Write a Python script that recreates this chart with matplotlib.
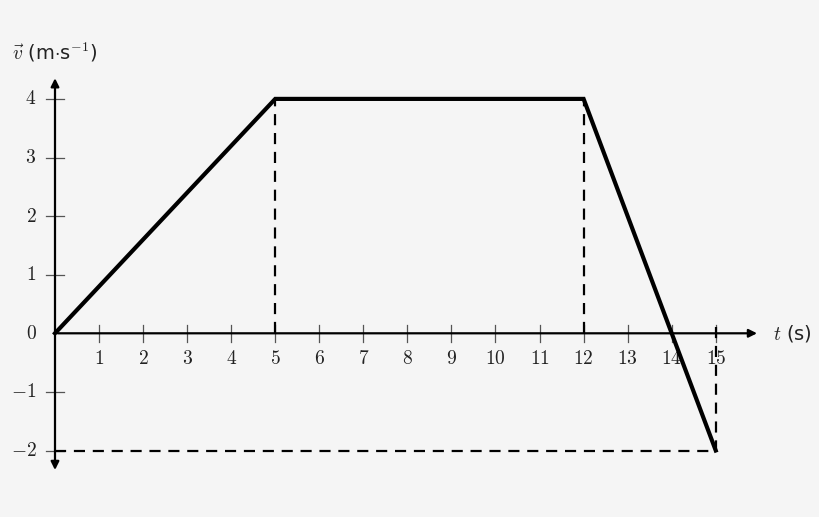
import matplotlib.pyplot as plt
import numpy as np

plt.rcParams['mathtext.fontset'] = 'cm'
plt.rcParams['font.family'] = 'DejaVu Sans'

# velocity-time data
t_pts = [0, 5, 12, 15]
v_pts = [0, 4, 4, -2]
x_ticks = list(range(1, 16))
y_ticks = [-2, -1, 1, 2, 3, 4]

bg = '#f5f5f5'
fig = plt.figure(figsize=(8.2, 5.17), dpi=100, facecolor=bg)
ax = fig.add_axes([0, 0, 1, 1])
ax.set_facecolor(bg)
ax.set_xlim(-55 / 44.05, (820 - 55) / 44.05)
ax.set_ylim(-(517 - 333.3) / 58.6, 333.3 / 58.6)
ax.axis('off')

# axes with arrows
ax.annotate('', xy=(16.0, 0), xytext=(0, 0),
            arrowprops=dict(arrowstyle='-|>', lw=1.6, color='black', mutation_scale=12))
ax.annotate('', xy=(0, 4.4), xytext=(0, -2.38),
            arrowprops=dict(arrowstyle='<|-|>', lw=1.6, color='black', mutation_scale=12))

# ticks
for x in x_ticks:
    ax.plot([x, x], [-0.14, 0.14], color='#555555', lw=0.9)
    ax.text(x, -0.43, f'${x}$', ha='center', va='center', fontsize=14, color='#222222')
for y in y_ticks:
    ax.plot([-0.2, 0.2], [y, y], color='#555555', lw=0.9)
    label = f'${y}$' if y >= 0 else f'$-{abs(y)}$'
    ax.text(-0.42, y, label, ha='right', va='center', fontsize=14, color='#222222')
ax.text(-0.42, 0, '$0$', ha='right', va='center', fontsize=14, color='#222222')

# guide lines
dash = dict(color='black', lw=1.6, ls=(0, (5, 3.5)))
ax.plot([5, 5], [0, 4], **dash)
ax.plot([12, 12], [0, 4], **dash)
ax.plot([15, 15], [0.1, -2], **dash)
ax.plot([0, 15], [-2, -2], **dash)

# velocity curve
ax.plot(t_pts, v_pts, color='black', lw=3, solid_joinstyle='miter', zorder=5)

# axis labels
ax.text(16.3, 0, r'$t$ (s)', ha='left', va='center', fontsize=14, color='#222222')
ax.text(-0.98, 4.8, r'$\vec{v}$ (m$\cdot$s$^{-1}$)', ha='left', va='center', fontsize=14,
        color='#222222')

fig.savefig('out.png', dpi=100, facecolor=bg)
